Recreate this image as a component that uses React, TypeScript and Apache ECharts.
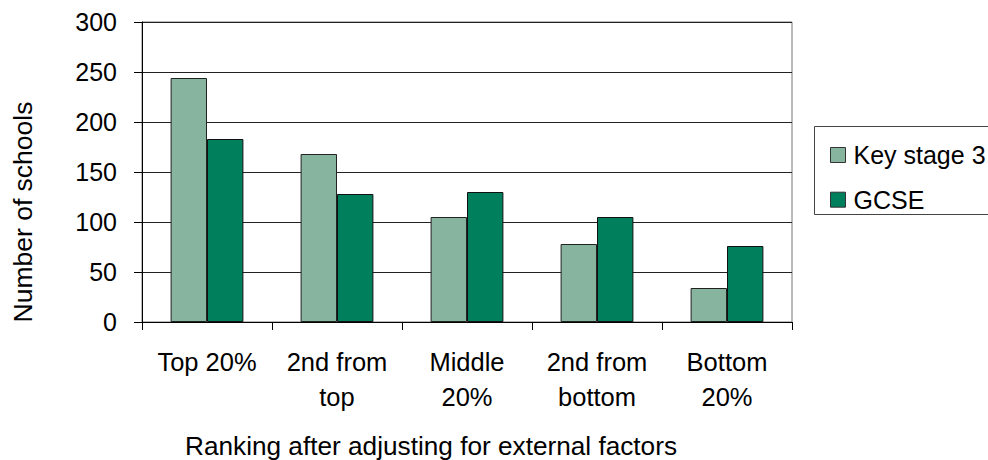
import React, { useEffect, useRef } from "react";
import * as echarts from "echarts";

const categories = ["Top 20%", "2nd from\ntop", "Middle\n20%", "2nd from\nbottom", "Bottom\n20%"];
const keyStage3 = [244, 168, 105, 78, 34];
const gcse = [183, 128, 130, 105, 76];
const yTicks = { min: 0, max: 300, interval: 50 };

const FONT = "Liberation Sans, Arial, sans-serif";

export default function App() {
  const ref = useRef<HTMLDivElement>(null);
  useEffect(() => {
    document.body.style.margin = "0";
    const chart = echarts.init(ref.current!, null, { renderer: "svg" });
    chart.setOption({
      animation: false,
      backgroundColor: "#ffffff",
      textStyle: { fontFamily: FONT },
      grid: {
        left: 142,
        top: 22,
        width: 650,
        height: 300,
        show: true,
        borderColor: "#777",
        borderWidth: 1,
        containLabel: false,
      },
      legend: {
        orient: "vertical",
        left: 825,
        top: 137.5,
        itemWidth: 15,
        itemHeight: 15,
        itemGap: 19.7,
        icon: "rect",
        itemStyle: { borderColor: "#333", borderWidth: 1 },
        textStyle: {
          fontFamily: FONT,
          fontSize: 25,
          lineHeight: 25,
          color: "#000",
          padding: [0, 0, 0, 3],
        },
        data: ["Key stage 3", "GCSE"],
      },
      xAxis: {
        type: "category",
        data: categories,
        axisLine: { lineStyle: { color: "#000", width: 1 } },
        axisTick: { show: true, length: 8, lineStyle: { color: "#000" } },
        axisLabel: {
          color: "#000",
          fontSize: 25.5,
          fontFamily: FONT,
          lineHeight: 35,
          margin: 22,
          interval: 0,
        },
      },
      yAxis: {
        type: "value",
        min: yTicks.min,
        max: yTicks.max,
        interval: yTicks.interval,
        axisLine: { show: true, lineStyle: { color: "#000", width: 1 } },
        axisTick: { show: true, length: 8, lineStyle: { color: "#000" } },
        axisLabel: { color: "#000", fontSize: 25, fontFamily: FONT, margin: 25 },
        splitLine: { show: true, lineStyle: { color: "#222", width: 1 } },
      },
      graphic: [
        {
          type: "rect",
          shape: { x: 814.5, y: 126.5, width: 200, height: 88 },
          style: { fill: "none", stroke: "#444", lineWidth: 1 },
        },
        {
          type: "text",
          x: 431,
          y: 446,
          style: {
            text: "Ranking after adjusting for external factors",
            fontSize: 26.2,
            fontFamily: FONT,
            fill: "#000",
            align: "center",
            verticalAlign: "middle",
          },
        },
        {
          type: "text",
          x: 23,
          y: 212,
          rotation: Math.PI / 2,
          style: {
            text: "Number of schools",
            fontSize: 26.5,
            fontFamily: FONT,
            fill: "#000",
            align: "center",
            verticalAlign: "middle",
          },
        },
      ],
      series: [
        {
          name: "Key stage 3",
          type: "bar",
          data: keyStage3,
          barGap: "0%",
          barCategoryGap: "44%",
          itemStyle: { color: "#86b49e", borderColor: "#222", borderWidth: 1 },
        },
        {
          name: "GCSE",
          type: "bar",
          data: gcse,
          barGap: "0%",
          barCategoryGap: "44%",
          itemStyle: { color: "#007f5c", borderColor: "#111", borderWidth: 1 },
        },
      ],
    });
    return () => chart.dispose();
  }, []);
  return <div ref={ref} style={{ width: 988, height: 460 }} />;
}
